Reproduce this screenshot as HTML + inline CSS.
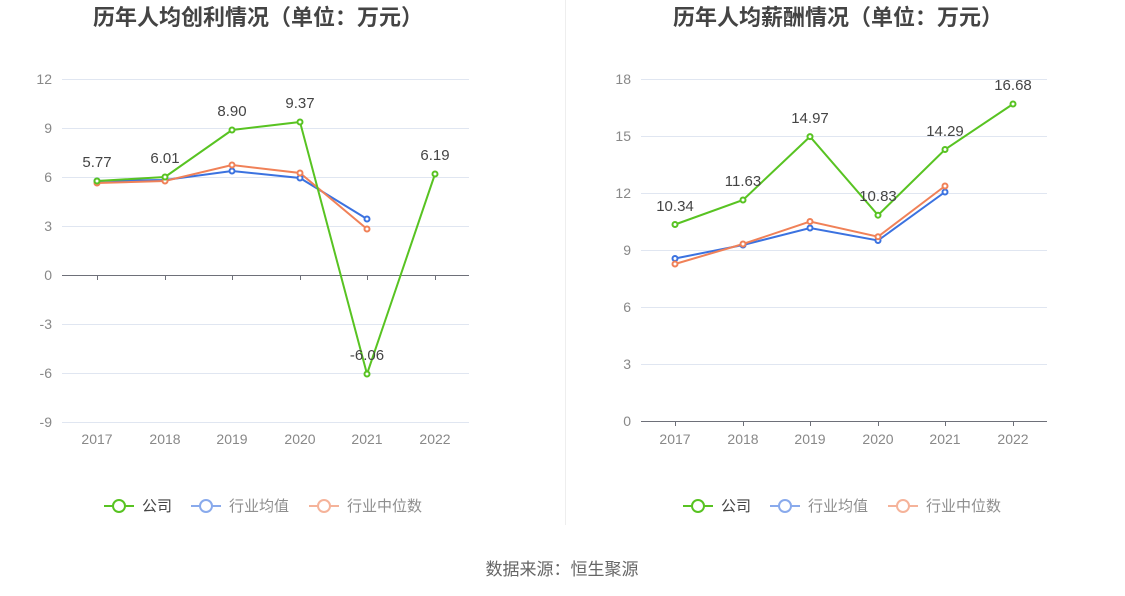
<!DOCTYPE html>
<html><head><meta charset="utf-8"><style>
body{margin:0;background:#fff;}
svg{display:block;font-family:"Liberation Sans","Noto Sans CJK SC",sans-serif;}
</style></head><body>
<svg width="1125" height="596" viewBox="0 0 1125 596">
<line x1="565.5" y1="0" x2="565.5" y2="525" stroke="#eeeeee"/>
<g font-size="22" font-weight="bold" fill="#444" text-anchor="middle">
<text x="258" y="25">历年人均创利情况（单位：万元）</text>
<text x="838" y="25">历年人均薪酬情况（单位：万元）</text>
</g>
<!-- left grid -->
<g stroke="#e0e6f1">
<line x1="62" x2="469" y1="79.5" y2="79.5"/><line x1="62" x2="469" y1="128.5" y2="128.5"/>
<line x1="62" x2="469" y1="177.5" y2="177.5"/><line x1="62" x2="469" y1="226.5" y2="226.5"/>
<line x1="62" x2="469" y1="324.5" y2="324.5"/><line x1="62" x2="469" y1="373.5" y2="373.5"/>
<line x1="62" x2="469" y1="422.5" y2="422.5"/>
</g>
<line x1="62" x2="469" y1="275.5" y2="275.5" stroke="#6e7079"/>
<g stroke="#6e7079"><line x1="97.5" x2="97.5" y1="275" y2="280"/><line x1="165.5" x2="165.5" y1="275" y2="280"/><line x1="232.5" x2="232.5" y1="275" y2="280"/><line x1="300.5" x2="300.5" y1="275" y2="280"/><line x1="367.5" x2="367.5" y1="275" y2="280"/><line x1="435.5" x2="435.5" y1="275" y2="280"/></g>
<g font-size="14" fill="#888" text-anchor="end">
<text x="52" y="84">12</text><text x="52" y="133">9</text><text x="52" y="182">6</text><text x="52" y="231">3</text><text x="52" y="280">0</text><text x="52" y="329">-3</text><text x="52" y="378">-6</text><text x="52" y="427">-9</text>
</g>
<g font-size="14" fill="#888" text-anchor="middle">
<text x="97" y="444">2017</text><text x="165" y="444">2018</text><text x="232" y="444">2019</text><text x="300" y="444">2020</text><text x="367" y="444">2021</text><text x="435" y="444">2022</text>
</g>
<g fill="#fff" stroke-width="2">
<polyline points="97,181 165,180 232,171 300,178 367,219" fill="none" stroke="#3b72e0"/>
<polyline points="97,183 165,181 232,165 300,173 367,229" fill="none" stroke="#f08158"/>
<polyline points="97,181 165,177 232,130 300,122 367,374 435,174" fill="none" stroke="#58c322"/>
<g stroke="#3b72e0"><circle cx="97" cy="181" r="2.5"/><circle cx="165" cy="180" r="2.5"/><circle cx="232" cy="171" r="2.5"/><circle cx="300" cy="178" r="2.5"/><circle cx="367" cy="219" r="2.5"/></g>
<g stroke="#f08158"><circle cx="97" cy="183" r="2.5"/><circle cx="165" cy="181" r="2.5"/><circle cx="232" cy="165" r="2.5"/><circle cx="300" cy="173" r="2.5"/><circle cx="367" cy="229" r="2.5"/></g>
<g stroke="#58c322"><circle cx="97" cy="181" r="2.5"/><circle cx="165" cy="177" r="2.5"/><circle cx="232" cy="130" r="2.5"/><circle cx="300" cy="122" r="2.5"/><circle cx="367" cy="374" r="2.5"/><circle cx="435" cy="174" r="2.5"/></g>
</g>
<g font-size="15" fill="#444" text-anchor="middle">
<text x="97" y="167">5.77</text><text x="165" y="163">6.01</text><text x="232" y="116">8.90</text><text x="300" y="108">9.37</text><text x="367" y="360">-6.06</text><text x="435" y="160">6.19</text>
</g>
<!-- right grid -->
<g stroke="#e0e6f1">
<line x1="641" x2="1047" y1="79.5" y2="79.5"/><line x1="641" x2="1047" y1="136.5" y2="136.5"/>
<line x1="641" x2="1047" y1="193.5" y2="193.5"/><line x1="641" x2="1047" y1="250.5" y2="250.5"/>
<line x1="641" x2="1047" y1="307.5" y2="307.5"/><line x1="641" x2="1047" y1="364.5" y2="364.5"/>
</g>
<line x1="641" x2="1047" y1="421.5" y2="421.5" stroke="#6e7079"/>
<g stroke="#6e7079"><line x1="675.5" x2="675.5" y1="421" y2="426"/><line x1="743.5" x2="743.5" y1="421" y2="426"/><line x1="810.5" x2="810.5" y1="421" y2="426"/><line x1="878.5" x2="878.5" y1="421" y2="426"/><line x1="945.5" x2="945.5" y1="421" y2="426"/><line x1="1013.5" x2="1013.5" y1="421" y2="426"/></g>
<g font-size="14" fill="#888" text-anchor="end">
<text x="631" y="84">18</text><text x="631" y="141">15</text><text x="631" y="198">12</text><text x="631" y="255">9</text><text x="631" y="312">6</text><text x="631" y="369">3</text><text x="631" y="426">0</text>
</g>
<g font-size="14" fill="#888" text-anchor="middle">
<text x="675" y="444">2017</text><text x="743" y="444">2018</text><text x="810" y="444">2019</text><text x="878" y="444">2020</text><text x="945" y="444">2021</text><text x="1013" y="444">2022</text>
</g>
<g fill="#fff" stroke-width="2">
<polyline points="675,258.5 743,245 810,228 878,240.5 945,192" fill="none" stroke="#3b72e0"/>
<polyline points="675,264 743,244 810,221.5 878,236.7 945,186" fill="none" stroke="#f08158"/>
<polyline points="675,224.5 743,200 810,136.6 878,215.2 945,149.5 1013,104" fill="none" stroke="#58c322"/>
<g stroke="#3b72e0"><circle cx="675" cy="258.5" r="2.5"/><circle cx="743" cy="245" r="2.5"/><circle cx="810" cy="228" r="2.5"/><circle cx="878" cy="240.5" r="2.5"/><circle cx="945" cy="192" r="2.5"/></g>
<g stroke="#f08158"><circle cx="675" cy="264" r="2.5"/><circle cx="743" cy="244" r="2.5"/><circle cx="810" cy="221.5" r="2.5"/><circle cx="878" cy="236.7" r="2.5"/><circle cx="945" cy="186" r="2.5"/></g>
<g stroke="#58c322"><circle cx="675" cy="224.5" r="2.5"/><circle cx="743" cy="200" r="2.5"/><circle cx="810" cy="136.6" r="2.5"/><circle cx="878" cy="215.2" r="2.5"/><circle cx="945" cy="149.5" r="2.5"/><circle cx="1013" cy="104" r="2.5"/></g>
</g>
<g font-size="15" fill="#444" text-anchor="middle">
<text x="675" y="211">10.34</text><text x="743" y="186">11.63</text><text x="810" y="123">14.97</text><text x="878" y="201">10.83</text><text x="945" y="136">14.29</text><text x="1013" y="90">16.68</text>
</g>
<!-- legends -->
<g font-size="15" fill="#555">
<g transform="translate(104,0)"><line x1="0" x2="30" y1="506" y2="506" stroke="#58c322" stroke-width="2"/><circle cx="15" cy="506" r="6" fill="#fff" stroke="#58c322" stroke-width="2"/><text x="38" y="511" fill="#444">公司</text></g>
<g transform="translate(191,0)" opacity="0.6"><line x1="0" x2="30" y1="506" y2="506" stroke="#3b72e0" stroke-width="2"/><circle cx="15" cy="506" r="6" fill="#fff" stroke="#3b72e0" stroke-width="2"/><text x="38" y="511" fill="#444">行业均值</text></g>
<g transform="translate(309,0)" opacity="0.6"><line x1="0" x2="30" y1="506" y2="506" stroke="#f08158" stroke-width="2"/><circle cx="15" cy="506" r="6" fill="#fff" stroke="#f08158" stroke-width="2"/><text x="38" y="511" fill="#444">行业中位数</text></g>
<g transform="translate(683,0)"><line x1="0" x2="30" y1="506" y2="506" stroke="#58c322" stroke-width="2"/><circle cx="15" cy="506" r="6" fill="#fff" stroke="#58c322" stroke-width="2"/><text x="38" y="511" fill="#444">公司</text></g>
<g transform="translate(770,0)" opacity="0.6"><line x1="0" x2="30" y1="506" y2="506" stroke="#3b72e0" stroke-width="2"/><circle cx="15" cy="506" r="6" fill="#fff" stroke="#3b72e0" stroke-width="2"/><text x="38" y="511" fill="#444">行业均值</text></g>
<g transform="translate(888,0)" opacity="0.6"><line x1="0" x2="30" y1="506" y2="506" stroke="#f08158" stroke-width="2"/><circle cx="15" cy="506" r="6" fill="#fff" stroke="#f08158" stroke-width="2"/><text x="38" y="511" fill="#444">行业中位数</text></g>
</g>
<text x="562" y="575" font-size="17" fill="#666" text-anchor="middle">数据来源：恒生聚源</text>
</svg>
</body></html>
